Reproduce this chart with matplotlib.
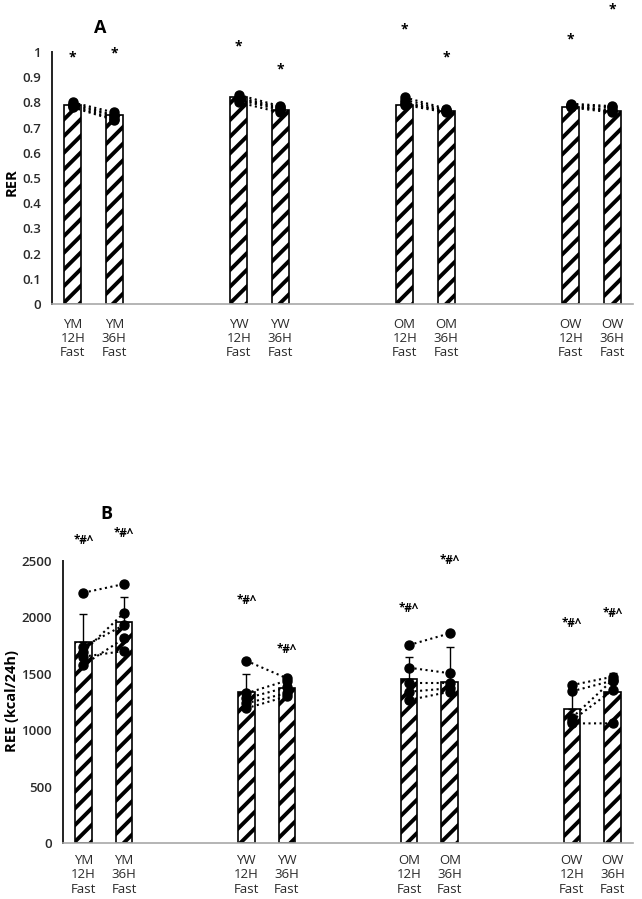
import numpy as np
import matplotlib.pyplot as plt

plt.rcParams['font.family'] = ['Open Sans', 'DejaVu Sans']
plt.rcParams['hatch.linewidth'] = 2.8

groups = ['YM', 'YW', 'OM', 'OW']
conds = ['12H', '36H']

# panel A: RER
rer_mean = [0.79, 0.75, 0.82, 0.77, 0.79, 0.766, 0.78, 0.766]
rer_err = [0.008, 0.006, 0.016, 0.008, 0.01, 0.005, 0.005, 0.005]
rer_ind = [
    [0.80, 0.795, 0.79, 0.785, 0.78],
    [0.76, 0.75, 0.745, 0.735, 0.73],
    [0.83, 0.82, 0.815, 0.81, 0.80],
    [0.785, 0.78, 0.775, 0.77, 0.76],
    [0.82, 0.81, 0.80, 0.795, 0.79],
    [0.775, 0.77, 0.765, 0.765, 0.76],
    [0.795, 0.79, 0.785, 0.785, 0.78],
    [0.785, 0.78, 0.77, 0.765, 0.76],
]
rer_sig = ['*'] * 8
rer_sig_y = [0.98, 0.995, 1.02, 0.93, 1.09, 0.98, 1.05, 1.17]

# panel B: REE
ree_mean = [1784, 1962, 1335, 1377, 1450, 1430, 1185, 1335]
ree_err = [250, 216, 163, 0, 202, 311, 210, 170]
ree_ind = [
    [2219, 1740, 1696, 1652, 1578],
    [2296, 1933, 2041, 1702, 1814],
    [1616, 1327, 1283, 1238, 1194],
    [1460, 1440, 1380, 1330, 1300],
    [1755, 1554, 1416, 1341, 1268],
    [1859, 1505, 1416, 1372, 1341],
    [1400, 1345, 1110, 1085, 1060],
    [1474, 1439, 1445, 1356, 1061],
]
ree_sig = ['*#^'] * 8
ree_sig_y = [2686, 2748, 2154, 1711, 2083, 2500, 1950, 2039]

labels = [g + '\n' + c + '\nFast' for g in groups for c in conds]
pos = np.array([gi * 4 + ci for gi in range(len(groups)) for ci in range(len(conds))])


def draw_panel(ax, mean, err, ind, sig, sig_y, ylim, yticks, ytl, sigsize, pad):
    ax.bar(pos, mean, width=0.41, color='white', edgecolor='black',
           linewidth=1.2, hatch='//', zorder=2)
    ax.errorbar(pos, mean, yerr=[np.zeros(len(err)), err], fmt='none',
                ecolor='black', elinewidth=1, capsize=3, capthick=1, zorder=3)
    for k in range(0, len(pos), 2):
        for a, b in zip(ind[k], ind[k + 1]):
            ax.plot([pos[k], pos[k + 1]], [a, b], color='black', ls=':',
                    lw=1.5, marker='o', ms=6.5, zorder=4)
    for x, s, y in zip(pos, sig, sig_y):
        ax.text(x, y, s, ha='center', va='center', fontsize=sigsize,
                fontweight='bold', clip_on=False)
    ax.set_xlim(-0.5, 13.5)
    ax.set_ylim(*ylim)
    ax.set_yticks(yticks)
    ax.set_yticklabels(ytl)
    ax.set_xticks(pos)
    ax.set_xticklabels(labels, linespacing=1.12)
    ax.tick_params(length=0, labelsize=9.5, labelcolor='#2a2a2a')
    ax.tick_params(axis='x', pad=pad)
    ax.tick_params(axis='y', pad=8)
    for lab in ax.get_yticklabels():
        lab.set_fontweight('semibold')
    for s in ['top', 'right']:
        ax.spines[s].set_visible(False)
    ax.spines['left'].set_color('#222222')
    ax.spines['left'].set_linewidth(1.4)
    ax.spines['bottom'].set_color('#a8a8a8')
    ax.spines['bottom'].set_linewidth(1.2)


fig = plt.figure(figsize=(6.42, 8.99), dpi=100)
axA = fig.add_axes([52 / 642, 1 - 304 / 899, 581 / 642, 252 / 899])
axB = fig.add_axes([63 / 642, 1 - 843 / 899, 570 / 642, 282 / 899])

rer_ticks = np.round(np.arange(0, 1.01, 0.1), 1)
draw_panel(axA, rer_mean, rer_err, rer_ind, rer_sig, rer_sig_y, (0, 1),
           rer_ticks, ['0' if t == 0 else ('1' if t == 1 else f'{t:g}') for t in rer_ticks],
           10, 10)
ree_ticks = np.arange(0, 2501, 500)
draw_panel(axB, ree_mean, ree_err, ree_ind, ree_sig, ree_sig_y, (0, 2500),
           ree_ticks, [str(t) for t in ree_ticks], 8.5, 8)

fig.text(12 / 642, 1 - 182 / 899, 'RER', rotation=90, ha='center', va='center',
         fontsize=10.5, fontweight='bold')
fig.text(12 / 642, 1 - 701 / 899, 'REE (kcal/24h)', rotation=90, ha='center',
         va='center', fontsize=10.5, fontweight='bold')
fig.text(100 / 642, 1 - 28 / 899, 'A', ha='center', va='center', fontsize=13,
         fontweight='bold')
fig.text(106 / 642, 1 - 514 / 899, 'B', ha='center', va='center', fontsize=13,
         fontweight='bold')

fig.savefig('out.png', dpi=100, facecolor='white')
